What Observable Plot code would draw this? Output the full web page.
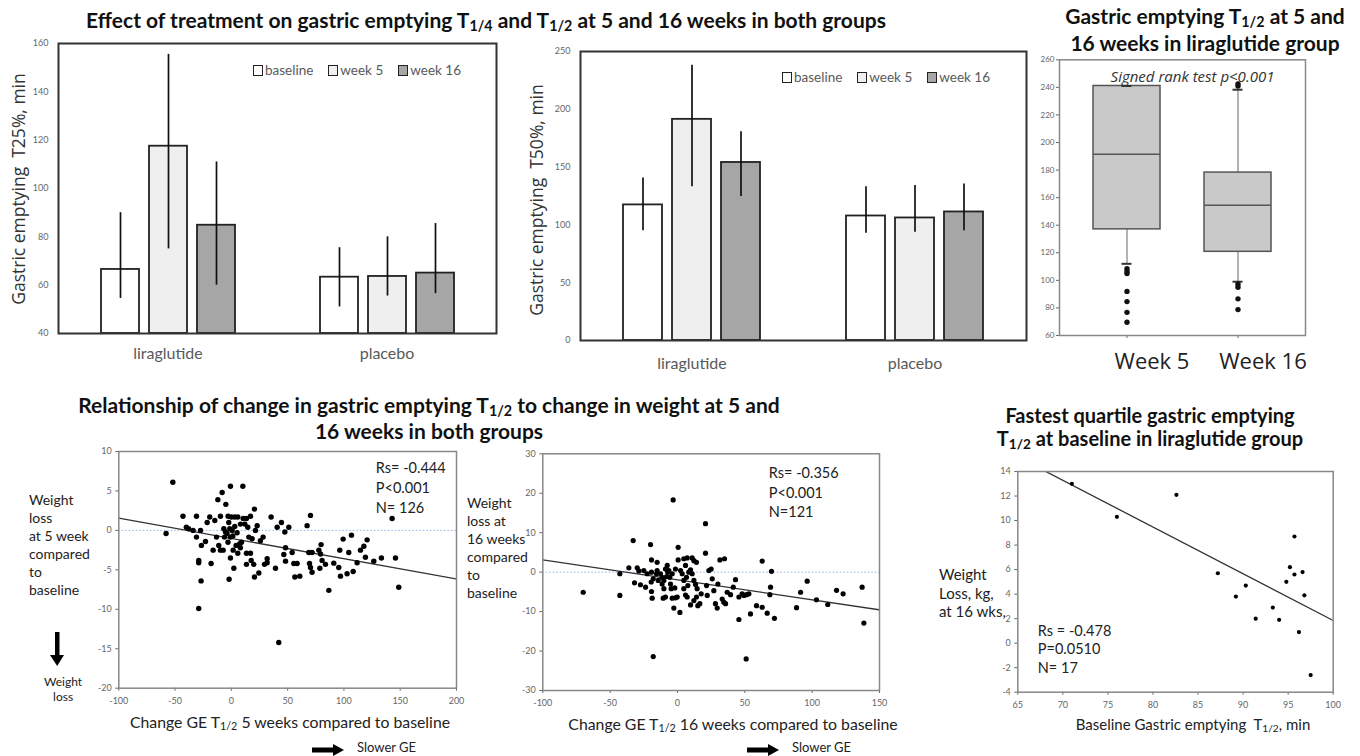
<!DOCTYPE html>
<html><head><meta charset="utf-8">
<script src="https://cdn.jsdelivr.net/npm/d3@7"></script>
<script src="https://cdn.jsdelivr.net/npm/@observablehq/plot@0.6"></script>
<style>
body{margin:0;background:#fff;}
#root{position:relative;width:1360px;height:756px;overflow:hidden;font-family:Lato,sans-serif;color:#222;}
.t{position:absolute;white-space:pre;}
.title{font-weight:bold;font-size:21px;color:#111;text-align:center;line-height:24px;}
.sub{font-size:0.68em;vertical-align:-0.22em;line-height:0;}
.ylab{font-family:"Open Sans",sans-serif;font-size:17.5px;color:#333;text-align:center;width:320px;transform:rotate(-90deg);}
.legend{position:absolute;display:flex;align-items:center;font-size:13.5px;color:#595959;}
.legend .it{display:flex;align-items:center;margin-right:15px;}
.legend .sw{width:10px;height:11px;border:1.6px solid #222;box-sizing:border-box;margin-right:2px;}
.wl{font-size:14px;line-height:18px;color:#222;}
.xl{font-size:15.8px;color:#222;text-align:center;width:440px;}
</style>
</head><body><div id="root"></div>
<script>
// ---------- data ----------
const groups = ["liraglutide", "placebo"];
const series = ["baseline", "week 5", "week 16"];
const seriesFill = ["#ffffff", "#efefef", "#a6a6a6"];
// order: liraglutide baseline, week 5, week 16, placebo baseline, week 5, week 16
const t25Mean = [66.5, 117.5, 84.8, 63.3, 63.6, 65.0];
const t25Low  = [54.5, 75, 60, 51, 55.5, 56.5];
const t25High = [90, 155.5, 111, 75.5, 80, 85.5];
const t50Mean = [117.3, 191.3, 154, 107.7, 106, 111.2];
const t50Low  = [95, 133, 124.5, 92.7, 93.6, 95];
const t50High = [140.6, 238, 180.6, 133, 134, 135.4];

const boxWeeks = ["Week 5", "Week 16"];
const boxQ1 = [137, 120.7];
const boxMedian = [191.5, 154.5];
const boxQ3 = [241, 178.2];
const whiskerLow = [112, 99];
const whiskerHigh = [241, 238.3];
const outliersWeek5 = [108.5, 106.5, 105, 92, 84.6, 76.8, 69.6];
const outliersWeek16 = [241, 242.5, 97.2, 95, 86.6, 78.8];

const geChange5 = [-52,-58,-43,-40,-38,-34,-31,-31,-29,-29,-27.4,-26.6,-26.9,-29,-23,-21.5,-19.2,-18,-16.2,-14.7,-12,-9.7,-8.2,-6.7,-4.9,-13.2,-11.2,-9.7,-7.3,-6.1,-5.2,-3.8,-2.9,-2.3,-1.4,-0.8,-0.8,0.1,0.7,1.3,-0.8,-2,1.6,2.2,3,4.2,5.1,5.7,5.7,7.5,8.1,9,10.2,10.5,12,13.4,13.4,13.4,14.6,15.5,17,17,17.6,18.4,19.9,20.5,20.5,21.4,22.9,24.4,25.8,28.2,29.4,31.8,31.8,35.3,39.2,40.7,42.1,44.5,46.6,47.5,48.1,48.1,51,54,55.5,58.4,56.4,60.8,67.3,70.3,68.8,71.7,69.4,70.3,71.7,77.7,79.2,79.7,78.6,80.6,83.6,86.6,91,95.4,96.9,96.3,99.3,102.8,104.3,106.7,108.2,111.7,114.7,117.7,120.6,119.1,126.5,133.3,142.8,145.8,148.7,-3,3,8];
const weight5 = [6.1,-0.4,1.8,0.4,0.2,0,1.8,-0.85,-3.8,-4.1,0,-1.9,-6.4,-9.9,-1.4,1.0,1.7,-4.2,-2.5,1.25,3.9,1.8,4.8,0.2,3.3,-0.85,-1.9,-2.5,-2.5,-0.85,-0.2,-0.4,1.8,1.0,0.2,5.6,-0.85,1.7,0,-0.7,-3.5,-6.2,-2.5,-4.8,1.7,-1.9,-0.3,1.7,-2.9,-1.7,0.8,-1.5,5.6,1.5,0.8,1.5,-2.9,-4.3,0.4,-0.85,1.8,-2.9,-3.8,-1.05,-4.3,2.7,-5.9,0,0.6,-5.4,-1.3,-0.85,-4.3,-3.6,-4.1,1.7,-4.8,0.4,-14.2,1.0,-3.05,-0.2,-2.2,-3.9,0.4,-2.8,-4.2,-4.2,-5.9,-5.8,0.6,1.9,-2.8,-2.8,-4.2,-4.7,-5.3,-2.5,-3.0,-1.8,-4.8,-3.8,-4.3,-7.6,-4.15,-4.7,-5.8,-2.5,-1.1,-5.5,-2.8,-0.6,-5.2,-4.1,-2.5,-2.0,-1.2,-3.4,-3.9,-3.5,1.5,-3.5,-7.2,-1.5,0.5,-2.2];
const fit5 = {intercept: -1.02, slope: -0.0257};
const stats5 = "Rs= -0.444\nP<0.001\nN= 126";

const geChange16 = [-3.2,20.8,-32.9,-20.0,0.5,20.8,62.9,-19.3,-15.1,0.5,4.7,7.2,10.9,12.2,14.1,31.5,34.9,69.8,-36.1,-42.8,-70.0,-42.8,-31.9,-27.5,-23.7,-19.3,-18.8,-29.9,-28.7,-25.0,-22.5,-19.3,-18.0,-19.5,-15.1,-12.6,-11.4,-10.1,-8.9,-7.6,-6.4,-5.7,-5.2,-4.7,-11.4,-10.6,-8.9,-3.9,-1.5,-0.2,-2.7,1.8,4.7,6.0,7.2,2.3,3.5,4.7,6.7,8.4,9.7,10.9,12.2,13.4,14.6,14.1,15.1,16.6,9.7,12.2,17.6,21.6,22.1,23.3,25.0,25.8,27.0,28.2,29.5,30.0,33.2,34.4,35.7,36.9,39.4,41.4,43.1,45.6,45.6,48.0,49.3,51.3,53.0,54.2,58.7,62.9,66.6,69.1,68.6,72.0,88.4,91.4,96.3,103.2,111.6,118.1,123.0,137.1,138.4,-18.0,51.0,-15.6,-7.2,-8.1,-3.9,-2.0,6.0,7.7,-1.5,-10.1,-14.3];
const weight16 = [18.3,12.3,8.0,7.0,6.3,4.8,2.8,3.1,2.5,3.1,3.4,3.6,3.6,2.9,2.5,3.1,3.4,0.2,1.1,-0.4,-5.1,-5.9,-2.7,-3.2,-3.8,-4.9,-6.6,1.1,0.3,0.4,-0.4,0.0,-1.7,-2.5,0.4,-0.4,-1.3,-2.1,0.8,1.7,0.4,-1.3,-3.0,-4.2,-3.0,-6.6,-6.3,-6.6,-6.5,-6.3,-9.1,-10.2,-4.2,-5.8,-6.3,0.4,-0.4,-2.1,-1.3,0.0,0.6,-0.4,-2.1,-3.1,-4.2,-6.3,-8.5,-8.0,-8.3,-7.2,-5.5,-3.4,-5.9,0.4,0.8,-1.7,-4.7,-8.0,-9.1,-3.0,-6.8,-7.6,-8.0,-5.1,-5.7,-3.8,-1.9,-6.3,-12.0,-5.5,-5.9,-5.7,-5.5,-10.6,-8.5,-8.9,-10.4,-3.8,-5.7,-11.7,-9.0,-5.1,-2.3,-7.0,-8.2,-4.6,-5.5,-3.8,-12.9,-21.4,-22.0,-0.4,0.0,-1.1,-0.4,-4.0,1.7,-3.4,0.8,-4.2,-2.1];
const fit16 = {intercept: -1.94, slope: -0.0507};
const stats16 = "Rs= -0.356\nP<0.001\nN=121";

const baselineGE = [71.0,76.0,82.6,87.2,89.2,90.3,91.4,93.3,94.0,94.8,95.2,95.7,95.7,96.2,96.6,96.8,97.5];
const weightLoss16 = [13.0,10.3,12.1,5.7,3.8,4.7,2.0,2.9,1.9,5.0,6.2,8.7,5.6,0.9,5.8,3.9,-2.6];
const fitBase = {intercept: 39.95, slope: -0.381};
const statsBase = "Rs = -0.478\nP=0.0510\nN= 17";

// ---------- helpers ----------
const root = document.getElementById("root");
function place(el, left, top) { el.style.position = "absolute"; el.style.left = left + "px"; el.style.top = top + "px"; root.appendChild(el); return el; }
function html(h, left, top, cls, extra) { const d = document.createElement("div"); d.className = "t " + (cls || ""); d.innerHTML = h; if (extra) Object.assign(d.style, extra); return place(d, left, top); }
function titleLines(lines, cx, top, lh, extra) {
  lines.forEach((l, i) => html(l, cx - 420, top + i * lh, "title", {width: "840px", ...(extra || {})}));
}
const fmt = d => String(d);
const baseStyle = {background: "transparent", fontFamily: "Lato, sans-serif", fontSize: "9px", color: "#666", overflow: "visible"};

function barPanel(mean, low, high, yDomain, yTicks, dims, labelDy) {
  const data = [];
  groups.forEach((g, gi) => series.forEach((s, si) => {
    const i = gi * 3 + si;
    data.push({group: g, series: s, value: mean[i], lo: low[i], hi: high[i]});
  }));
  return Plot.plot({
    ...dims,
    style: baseStyle,
    fx: {domain: groups, padding: 0, axis: null},
    x: {domain: series, paddingInner: 0.21, paddingOuter: 0.85, axis: null},
    y: {domain: yDomain, ticks: yTicks, tickSize: 0, tickPadding: 10, label: null, tickFormat: fmt},
    color: {domain: series, range: seriesFill},
    marks: [
      Plot.barY(data, {fx: "group", x: "series", y1: yDomain[0], y2: "value", fill: "series", stroke: "#222", strokeWidth: 1.8}),
      Plot.ruleX(data, {fx: "group", x: "series", y1: "lo", y2: "hi", stroke: "#111", strokeWidth: 1.7}),
      Plot.text(groups, {fx: d => d, text: d => d, frameAnchor: "bottom", dy: labelDy, fontSize: 16, fill: "#595959"}),
      Plot.frame({facet: "super", stroke: "#333", strokeWidth: 2})
    ]
  });
}

function legend(left, top) {
  const d = document.createElement("div");
  d.className = "legend";
  series.forEach((s, i) => {
    const it = document.createElement("div"); it.className = "it";
    const sw = document.createElement("div"); sw.className = "sw"; sw.style.background = seriesFill[i];
    const tx = document.createElement("span"); tx.textContent = s;
    it.append(sw, tx); d.append(it);
  });
  return place(d, left, top);
}

function rotLabel(h, cx, cy) { return html(h, cx - 160, cy - 12, "ylab"); }
function xLabel(h, cx, cy, extra) { return html(h, cx - 220, cy - 11, "xl", extra); }

function scatterPanel(xs, ys, fit, xDomain, yDomain, xTicks, yTicks, stats, statsPos, dims, r, zeroLine) {
  const pts = xs.map((x, i) => ({x, y: ys[i]}));
  const line = xDomain.map(x => ({x, y: fit.intercept + fit.slope * x}));
  return Plot.plot({
    ...dims,
    style: baseStyle,
    x: {domain: xDomain, ticks: xTicks, tickSize: 3, tickPadding: 6, label: null, tickFormat: fmt},
    y: {domain: yDomain, ticks: yTicks, tickSize: 3, tickPadding: 4, label: null, tickFormat: fmt},
    marks: [
      zeroLine ? Plot.ruleY([0], {stroke: "#8db3e2", strokeDasharray: "1.5,2", strokeWidth: 1}) : null,
      Plot.line(line, {x: "x", y: "y", stroke: "#333", strokeWidth: 1.3, clip: true}),
      Plot.dot(pts, {x: "x", y: "y", r: r, fill: "#000", stroke: "none"}),
      Plot.text([stats], {text: d => d, frameAnchor: "top-left", textAnchor: "start", lineAnchor: "top", dx: statsPos[0], dy: statsPos[1], lineHeight: statsPos[2], fontSize: 14.5, fill: "#222"}),
      Plot.frame({stroke: "#888", strokeWidth: 1.5})
    ]
  });
}

function arrowDown(left, top) {
  const s = `<svg width="18" height="36"><rect x="7" y="0" width="4.5" height="25" fill="#000"/><polygon points="2,23 16,23 9.2,34" fill="#000"/></svg>`;
  return html(s, left, top, "");
}
function arrowRight(left, top) {
  const s = `<svg width="34" height="14"><rect x="0" y="4.5" width="23" height="5" fill="#000"/><polygon points="21,1 21,13 32,7" fill="#000"/></svg>`;
  return html(s, left, top, "");
}

// ---------- top row ----------
place(barPanel(t25Mean, t25Low, t25High, [40, 160], d3.range(40, 161, 20),
  {width: 510, height: 380, marginLeft: 57, marginTop: 43, marginRight: 14, marginBottom: 47}, 25), 0, 0);
place(barPanel(t50Mean, t50Low, t50High, [0, 250], d3.range(0, 251, 50),
  {width: 520, height: 390, marginLeft: 59, marginTop: 51, marginRight: 14, marginBottom: 50}, 28), 520, 0);
legend(253, 62);
legend(782, 69);
rotLabel("Gastric emptying  T25%, min", 18, 189);
rotLabel("Gastric emptying  T50%, min", 536, 200);
titleLines(['Effect of treatment on gastric emptying T<span class="sub">1/4</span> and T<span class="sub">1/2</span> at 5 and 16 weeks in both groups'], 486, 8, 26);

// box plot
{
  const boxData = boxWeeks.map((w, i) => ({week: w, q1: boxQ1[i], med: boxMedian[i], q3: boxQ3[i], lo: whiskerLow[i], hi: whiskerHigh[i]}));
  const outliers = [...outliersWeek5.map(v => ({week: "Week 5", v})), ...outliersWeek16.map(v => ({week: "Week 16", v}))];
  const p = Plot.plot({
    width: 320, height: 330, marginLeft: 29, marginTop: 9.3, marginRight: 45, marginBottom: 45,
    style: {...baseStyle, fontSize: "8px"},
    x: {domain: boxWeeks, paddingInner: 0.396, paddingOuter: 0.306, tickSize: 3, tickFormat: () => "", label: null},
    y: {domain: [60, 260], ticks: d3.range(60, 261, 20), tickSize: 3, tickPadding: 2, label: null, tickFormat: fmt},
    marks: [
      Plot.ruleX(boxData, {x: "week", y1: "lo", y2: "hi", stroke: "#8a8a8a", strokeWidth: 1.3}),
      Plot.barY(boxData, {x: "week", y1: "q1", y2: "q3", fill: "#c9c9c9", stroke: "#555", strokeWidth: 1.5}),
      Plot.tickY(boxData, {x: "week", y: "med", stroke: "#555", strokeWidth: 1.5}),
      Plot.tickY(boxData, {x: "week", y: "lo", insetLeft: 28.5, insetRight: 28.5, stroke: "#333", strokeWidth: 2}),
      Plot.tickY(boxData, {x: "week", y: "hi", insetLeft: 28.5, insetRight: 28.5, stroke: "#333", strokeWidth: 2}),
      Plot.dot(outliers, {x: "week", y: "v", r: 2.7, fill: "#111", stroke: "none"}),
      Plot.text(["Signed rank test p<0.001"], {text: d => d, frameAnchor: "top", dx: 10, dy: 12, fontSize: 15, fontStyle: "italic", fontFamily: "Open Sans, sans-serif", fill: "#333"}),
      Plot.text(boxData, {x: "week", text: "week", frameAnchor: "bottom", dy: 33, dx: 25, fontSize: 22, fontFamily: "Open Sans, sans-serif", fill: "#222"}),
      Plot.frame({stroke: "#888", strokeWidth: 1.5})
    ]
  });
  place(p, 1030, 50);
}
titleLines(['Gastric emptying T<span class="sub">1/2</span> at 5 and', '16 weeks in liraglutide group'], 1205, 4, 27);

// ---------- bottom row ----------
titleLines(['Relationship of change in gastric emptying T<span class="sub">1/2</span> to change in weight at 5 and', '16 weeks in both groups'], 429, 393, 26);
place(scatterPanel(geChange5, weight5, fit5, [-100, 200], [-20, 10], d3.range(-100, 201, 50), d3.range(-20, 11, 5),
  stats5, [257, 7, 1.38], {width: 400, height: 280, marginLeft: 48.3, marginTop: 11, marginRight: 14, marginBottom: 32.3}, 2.7, true), 70, 440);
html("Weight\nloss\nat 5 week\ncompared\nto\nbaseline", 29, 491, "wl");
arrowDown(48, 632);
html("Weight\nloss", 44, 674, "", {fontSize: "12px", lineHeight: "15px", textAlign: "center"});
xLabel('Change GE T<span class="sub">1/2</span> 5 weeks compared to baseline', 290, 723);
arrowRight(312, 741);
html("Slower GE", 357, 739, "", {fontSize: "13px"});

place(scatterPanel(geChange16, weight16, fit16, [-100, 150], [-30, 30], d3.range(-100, 151, 50), d3.range(-30, 31, 10),
  stats16, [226, 10, 1.36], {width: 395, height: 280, marginLeft: 42.3, marginTop: 13.3, marginRight: 16, marginBottom: 30}, 2.6, true), 500, 440);
html("Weight\nloss at\n16 weeks\ncompared\nto\nbaseline", 467, 494, "wl");
xLabel('Change GE T<span class="sub">1/2</span> 16 weeks compared to baseline', 733, 725);
arrowRight(747, 741);
html("Slower GE", 792, 739, "", {fontSize: "13px"});

titleLines(['Fastest quartile gastric emptying', 'T<span class="sub">1/2</span> at baseline in liraglutide group'], 1150, 404, 23, {fontSize: "20px", lineHeight: "22px"});
place(scatterPanel(baselineGE, weightLoss16, fitBase, [65, 100], [-4, 14], d3.range(65, 101, 5), d3.range(-4, 15, 2),
  statsBase, [20, 151, 1.28], {width: 370, height: 260, marginLeft: 37.3, marginTop: 11, marginRight: 17.3, marginBottom: 28.3}, 2.1, false), 980, 460);
html("Weight\nLoss, kg,\nat 16 wks,", 939, 565, "", {fontSize: "15px", lineHeight: "18.5px"});
xLabel('Baseline Gastric emptying  T<span class="sub">1/2</span>, min', 1193, 726, {fontSize: "15px"});
</script></body></html>
